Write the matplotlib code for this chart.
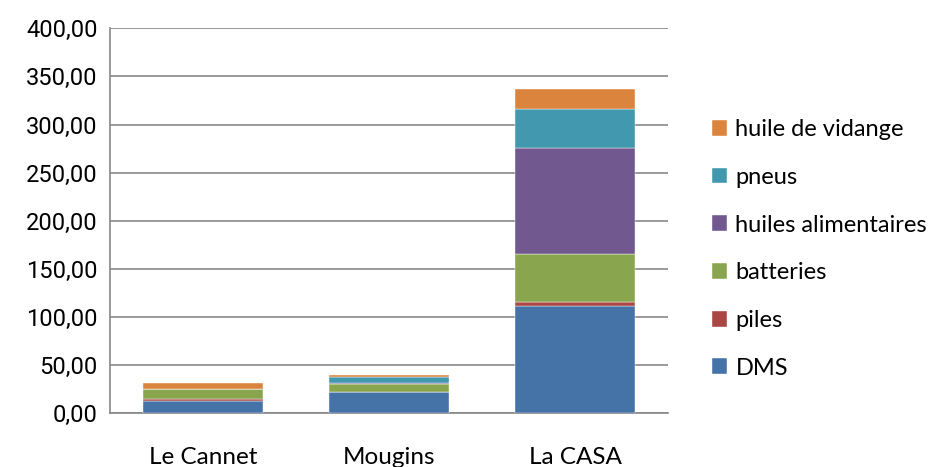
import numpy as np
from matplotlib import pyplot as plt

plt.rcParams['font.family'] = ['Lato', 'DejaVu Sans']

# donnees
communes = ["Le Cannet", "Mougins", "La CASA"]
dms = [13.1, 22.1, 111.5]
piles = [1.8, 0.2, 4.5]
batteries = [10.4, 8.3, 49.2]
huiles_alimentaires = [0.4, 1.2, 110.0]
pneus = [0.0, 6.0, 40.5]
huile_vidange = [6.2, 2.5, 20.8]

series = [
    ("DMS", dms, "#4572A7"),
    ("piles", piles, "#AA4643"),
    ("batteries", batteries, "#89A54E"),
    ("huiles alimentaires", huiles_alimentaires, "#71588F"),
    ("pneus", pneus, "#4198AF"),
    ("huile de vidange", huile_vidange, "#DB843D"),
]

fig = plt.figure(figsize=(9.39, 4.67), dpi=100)
ax = fig.add_axes([0.1171, 0.115, 0.5943, 0.8244])

x = np.arange(len(communes))
bas = np.zeros(len(communes))
handles = []
for nom, valeurs, couleur in series:
    b = ax.bar(x, valeurs, width=0.645, bottom=bas, color=couleur,
               edgecolor="white", linewidth=0.3, label=nom, zorder=3)
    handles.append(b)
    bas += np.array(valeurs)

ax.set_xlim(-0.5, 2.5)
ax.set_ylim(0, 400)
ax.set_yticks(np.arange(0, 401, 50))
ax.set_yticklabels([f"{v:.2f}".replace(".", ",") for v in np.arange(0, 401, 50)],
                   fontsize=17, family=["Roboto", "DejaVu Sans"])
ax.set_xticks(x)
ax.set_xticklabels(communes, fontsize=17.5)
ax.tick_params(axis="x", length=0, pad=24)
ax.tick_params(axis="y", length=0, pad=9)
ax.grid(axis="y", color="#878787", linewidth=1.2, zorder=0)
for s in ["top", "right"]:
    ax.spines[s].set_visible(False)
for s in ["left", "bottom"]:
    ax.spines[s].set_color("#878787")
    ax.spines[s].set_linewidth(1.2)

leg = fig.legend(handles[::-1], [s[0] for s in series][::-1],
                 loc="center left", bbox_to_anchor=(0.748, 0.467),
                 frameon=False, fontsize=17, handlelength=0.65, handleheight=0.65,
                 handletextpad=0.35, labelspacing=1.13, borderaxespad=0)

fig.savefig("out.png", dpi=100)
plt.close(fig)
